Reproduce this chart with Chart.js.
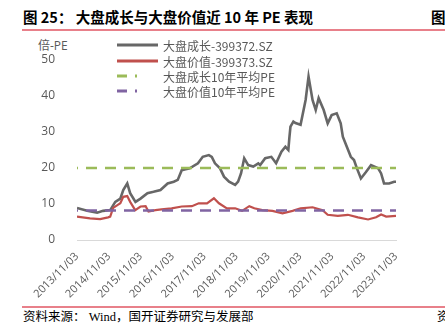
<!DOCTYPE html>
<html>
<head>
<meta charset="utf-8">
<script src="https://cdn.jsdelivr.net/npm/chart.js@4/dist/chart.umd.min.js"></script>
<style>
  html, body { margin: 0; padding: 0; background: #fff; }
  #page { position: relative; width: 445px; height: 325px; overflow: hidden; }
  .title { position: absolute; left: 23px; top: 8px; font: bold 14.5px "Noto Sans CJK SC", "Open Sans", sans-serif; color: #000; white-space: nowrap; line-height: 18px; }
  .title.right { left: 431px; }
  .rule { position: absolute; left: 22px; right: 0; height: 1.5px; background: #e8808a; }
  .unit { position: absolute; left: 38px; top: 36px; font: 12px "Open Sans", "Noto Sans CJK SC", sans-serif; color: #595959; }
  .source { position: absolute; left: 23px; top: 309px; font: 12.5px "Liberation Serif", "Noto Sans CJK SC", serif; color: #000; white-space: nowrap; line-height: 16px; }
  .source.right { left: 437px; }
  #wrap { position: absolute; left: 0; top: 34px; width: 440px; height: 272px; }
</style>
</head>
<body>
<div id="page">
  <div class="title">图 25：&nbsp;大盘成长与大盘价值近 10 年 PE 表现</div>
  <div class="title right">图</div>
  <div class="rule" style="top:29px"></div>
  <div class="unit">倍-PE</div>
  <div id="wrap"><canvas id="peChart" width="440" height="272"></canvas></div>
  <div class="rule" style="top:306px"></div>
  <div class="source">资料来源：&nbsp;Wind，国开证券研究与发展部</div>
  <div class="source right">资</div>
</div>
<script>
// x values are months after 2013/11/03
const dateLabels = ['2013/11/03', '2014/11/03', '2015/11/03', '2016/11/03', '2017/11/03', '2018/11/03',
  '2019/11/03', '2020/11/03', '2021/11/03', '2022/11/03', '2023/11/03'];

const growthMonths = [0, 3.8, 7.6, 9.8, 12.5, 14.4, 16.3, 17.4, 18.9, 20, 22, 23.9, 26.5, 28.8, 31.4, 34.1,
  36.4, 37.9, 39.4, 40.5, 42.4, 45.5, 47.3, 49.6, 50.7, 51.9, 53.8, 55.3, 57.2, 59.5, 60.6, 61.7, 62.9,
  64.4, 66.3, 68.2, 68.9, 70.8, 73.1, 74.9, 76.9, 78.4, 79.5, 79.9, 80.3, 81.4, 82.2, 84.1, 86, 87.1,
  88.6, 89.8, 90.9, 92.8, 94.3, 95.8, 97.7, 99.2, 100, 101.5, 103, 104.2, 105.3, 106.8, 108.7, 110.6,
  113.3, 114.4, 115.5, 117.4, 119.3, 120];
const growthPE = [8.9, 8.1, 7.6, 8.1, 8.3, 10.6, 11.5, 13.9, 15.7, 13, 10.6, 11.5, 13, 13.4, 13.9, 15.7,
  16.2, 16.7, 19.4, 19.6, 19.9, 21.3, 23.1, 23.6, 23.1, 21.3, 19.9, 17.6, 16.2, 15.3, 16.2, 18.5, 22.7,
  20.8, 20.4, 21.3, 20.8, 22.7, 23.1, 21.3, 24.5, 25.9, 25, 28.5, 31.5, 32.9, 32.5, 32, 38.9, 45.4,
  38.9, 36.1, 39.4, 36.1, 32.4, 34.7, 35.2, 32.4, 28.7, 25.9, 23.1, 22.2, 19.9, 17.1, 18.9, 20.8,
  19.9, 18.5, 15.7, 15.7, 16.2, 16.2];

const valueMonths = [0, 4.9, 8.7, 11.7, 12.5, 13.6, 15.2, 16.3, 17.4, 18.9, 20, 21.9, 23.9, 25.8, 26.9,
  29.5, 31.8, 35.6, 39.4, 43.2, 45.8, 48.9, 51.5, 53.4, 56.4, 59.5, 62.1, 64.8, 66.7, 69.7, 73.5, 77.3,
  81.1, 84.1, 88.6, 92.4, 94.3, 98.1, 101.9, 105.7, 109.5, 112.5, 114.4, 116.3, 120];
const valuePE = [6.5, 6, 5.8, 6.3, 6.5, 8.9, 9.7, 10.2, 12, 12.2, 10.6, 8.3, 9.3, 9.4, 7.9, 8.3, 8.5, 8.8,
  9.3, 9.4, 10.2, 10.2, 11.6, 10.2, 8.8, 8.8, 8.1, 9.4, 8.8, 8.3, 8.1, 7.4, 8.1, 8.8, 9.1, 8.3, 7, 6.7,
  7, 6.3, 5.7, 6.3, 7.1, 6.5, 6.7];

const growthAvg = 20;
const valueAvg = 8.2;

const toPoints = (xs, ys) => xs.map((x, i) => ({ x: x, y: ys[i] }));
const flat = (v) => [{ x: 0, y: v }, { x: 120, y: v }];

// legend drawn by hand so the rows sit top-left inside the plot
const sideLegend = {
  id: 'sideLegend',
  afterDraw(chart) {
    const ctx = chart.ctx;
    const rows = [11, 27, 42, 57];
    ctx.save();
    ctx.font = '12px "Noto Sans CJK SC", "Open Sans", sans-serif';
    ctx.textBaseline = 'middle';
    chart.data.datasets.forEach((ds, i) => {
      const y = rows[i];
      ctx.strokeStyle = ds.borderColor;
      ctx.lineWidth = 3;
      ctx.setLineDash(ds.borderDash && ds.borderDash.length ? [10, 8, 2, 100] : []);
      ctx.beginPath();
      ctx.moveTo(117, y);
      ctx.lineTo(158, y);
      ctx.stroke();
      ctx.setLineDash([]);
      ctx.fillStyle = '#595959';
      ctx.fillText(ds.label, 163, y + 1);
    });
    ctx.restore();
  }
};

new Chart(document.getElementById('peChart'), {
  type: 'line',
  data: {
    datasets: [
      { label: '大盘成长-399372.SZ', data: toPoints(growthMonths, growthPE), borderColor: '#676767', borderWidth: 2.6, order: 4 },
      { label: '大盘价值-399373.SZ', data: toPoints(valueMonths, valuePE), borderColor: '#c0504d', borderWidth: 2.2, order: 3 },
      { label: '大盘成长10年平均PE', data: flat(growthAvg), borderColor: '#9bbb59', borderWidth: 2.6, borderDash: [11, 8], borderDashOffset: 10, order: 2 },
      { label: '大盘价值10年平均PE', data: flat(valueAvg), borderColor: '#8064a2', borderWidth: 2.6, borderDash: [11, 8], borderDashOffset: 10, order: 1 }
    ]
  },
  options: {
    responsive: false,
    animation: false,
    layout: { padding: { top: 26, right: 44, left: 0, bottom: 0 } },
    elements: { point: { radius: 0 }, line: { tension: 0, borderCapStyle: 'butt' } },
    plugins: { legend: { display: false }, tooltip: { enabled: false } },
    scales: {
      x: {
        type: 'linear',
        min: 0,
        max: 120,
        grid: { display: false },
        border: { display: true, color: '#d9d9d9', width: 1 },
        afterFit: (s) => { s.height = 66; },
        afterBuildTicks: (s) => { s.ticks = dateLabels.map((d, i) => ({ value: i * 12 })); },
        ticks: {
          autoSkip: false,
          minRotation: 45,
          maxRotation: 45,
          padding: 2,
          color: '#595959',
          font: { family: '"Open Sans", sans-serif', size: 11 },
          callback: (v) => dateLabels[Math.round(v / 12)]
        }
      },
      y: {
        min: 0,
        max: 50,
        grid: { display: false },
        border: { display: false },
        afterFit: (s) => { s.width = 77; },
        ticks: {
          stepSize: 10,
          padding: 14,
          color: '#595959',
          font: { family: '"Open Sans", sans-serif', size: 12 }
        }
      }
    }
  },
  plugins: [sideLegend]
});
</script>
</body>
</html>
